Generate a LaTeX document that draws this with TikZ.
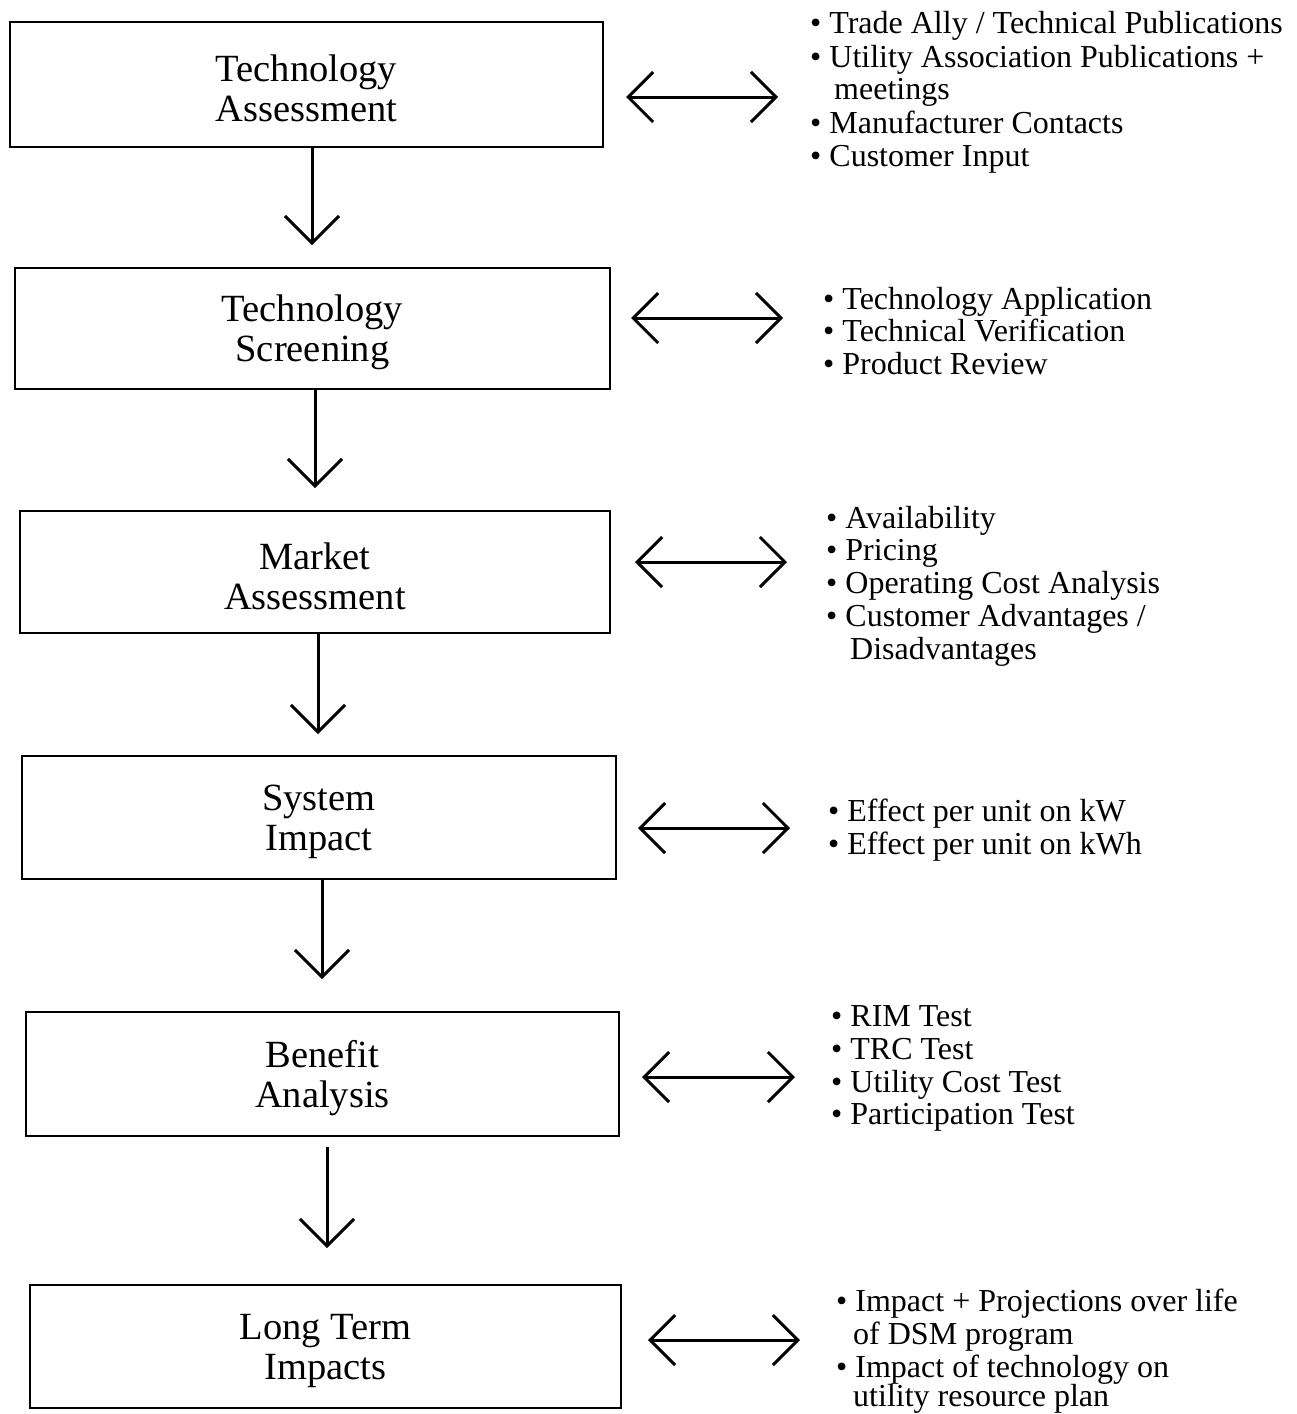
\documentclass[tikz,border=0pt]{standalone}
\usepackage{fontspec}
\setmainfont{Liberation Serif}
\usetikzlibrary{arrows.meta}
\begin{document}
\begin{tikzpicture}[x=1pt,y=-1pt,
  box/.style={draw, line width=2.5pt, inner sep=0pt},
  boxtext/.style={inner sep=0pt, align=center, yshift=-4pt,
    font=\fontsize{38.5}{40}\selectfont},
  item/.style={anchor=base west, inner sep=0pt, font=\fontsize{32}{33}\selectfont},
  flow/.style={line width=3pt, -{Straight Barb[length=27pt,width=54pt]}},
  link/.style={line width=3pt, {Straight Barb[length=25pt,width=50pt]}-{Straight Barb[length=25pt,width=50pt]}}
]
\useasboundingbox (0,0) rectangle (1297,1414);
% boxes
\node[box, minimum width=593pt, minimum height=125pt] (b1) at (306.5,84.5) {};
\node[box, minimum width=595pt, minimum height=121pt] (b2) at (312.5,328.5) {};
\node[box, minimum width=590pt, minimum height=122pt] (b3) at (315,572) {};
\node[box, minimum width=594pt, minimum height=123pt] (b4) at (319,817.5) {};
\node[box, minimum width=593pt, minimum height=124pt] (b5) at (322.5,1074) {};
\node[box, minimum width=591pt, minimum height=123pt] (b6) at (325.5,1346.5) {};
\node[boxtext] (x1) at (b1.center) {Technology\\Assessment};
\node[boxtext] (x2) at (b2.center) {Technology\\Screening};
\node[boxtext] (x3) at (b3.center) {Market\\Assessment};
\node[boxtext] (x4) at (b4.center) {System\\Impact};
\node[boxtext] (x5) at (b5.center) {Benefit\\Analysis};
\node[boxtext] (x6) at (b6.center) {Long Term\\Impacts};
% vertical arrows
\coordinate (e1) at (312,245);
\coordinate (e2) at (315,488);
\coordinate (e3) at (318,734);
\coordinate (e4) at (322,979);
\coordinate (s5) at (327,1147);
\coordinate (e5) at (327,1248);
\draw[flow] (b1.south -| e1) -- (e1);
\draw[flow] (b2.south -| e2) -- (e2);
\draw[flow] (b3.south -| e3) -- (e3);
\draw[flow] (b4.south -| e4) -- (e4);
\draw[flow] (s5) -- (e5);
% double arrows
\coordinate (l1a) at (626,97);  \coordinate (l1b) at (778,97);
\coordinate (l2a) at (631,318); \coordinate (l2b) at (783,318);
\coordinate (l3a) at (635,562); \coordinate (l3b) at (787,562);
\coordinate (l4a) at (638,828); \coordinate (l4b) at (790,828);
\coordinate (l5a) at (642,1077); \coordinate (l5b) at (795,1077);
\coordinate (l6a) at (648,1340); \coordinate (l6b) at (800,1340);
\draw[link] (l1a) -- (l1b);
\draw[link] (l2a) -- (l2b);
\draw[link] (l3a) -- (l3b);
\draw[link] (l4a) -- (l4b);
\draw[link] (l5a) -- (l5b);
\draw[link] (l6a) -- (l6b);
% list 1
\node[item] (t11) at (810,33) {\textbullet\ Trade Ally / Technical Publications};
\node[item] (t12) at (810,67) {\textbullet\ Utility Association Publications +};
\node[item] (t13) at (834,99) {meetings};
\node[item] (t14) at (810,133) {\textbullet\ Manufacturer Contacts};
\node[item] (t15) at (810,166) {\textbullet\ Customer Input};
% list 2
\node[item] (t21) at (823,309) {\textbullet\ Technology Application};
\node[item] (t22) at (823,341) {\textbullet\ Technical Verification};
\node[item] (t23) at (823,374) {\textbullet\ Product Review};
% list 3
\node[item] (t31) at (826,528) {\textbullet\ Availability};
\node[item] (t32) at (826,560) {\textbullet\ Pricing};
\node[item] (t33) at (826,593) {\textbullet\ Operating Cost Analysis};
\node[item] (t34) at (826,626) {\textbullet\ Customer Advantages /};
\node[item] (t35) at (850,659) {Disadvantages};
% list 4
\node[item] (t41) at (828,821) {\textbullet\ Effect per unit on kW};
\node[item] (t42) at (828,854) {\textbullet\ Effect per unit on kWh};
% list 5
\node[item] (t51) at (831,1026) {\textbullet\ RIM Test};
\node[item] (t52) at (831,1059) {\textbullet\ TRC Test};
\node[item] (t53) at (831,1092) {\textbullet\ Utility Cost Test};
\node[item] (t54) at (831,1124) {\textbullet\ Participation Test};
% list 6
\node[item] (t61) at (836,1311) {\textbullet\ Impact + Projections over life};
\node[item] (t62) at (853,1344) {of DSM program};
\node[item] (t63) at (836,1377) {\textbullet\ Impact of technology on};
\node[item] (t64) at (853,1406) {utility resource plan};
\end{tikzpicture}
\end{document}
